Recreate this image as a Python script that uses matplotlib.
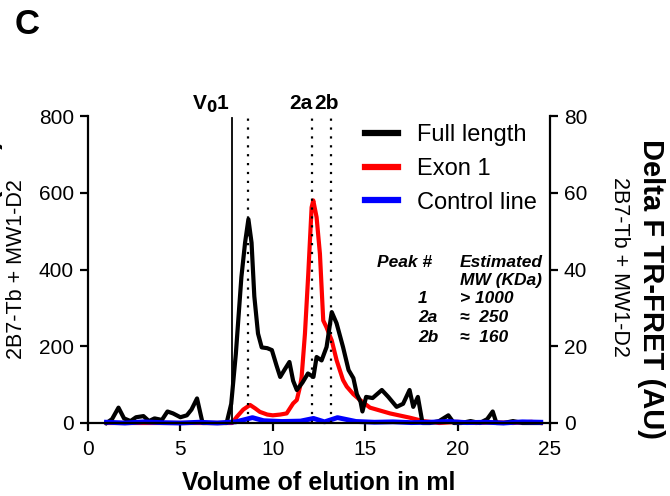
import matplotlib
matplotlib.use("Agg")
import matplotlib.pyplot as plt

plt.rcParams['font.family'] = ['Liberation Sans', 'DejaVu Sans']

# Full length (left axis units)
full_x = [1.0, 1.3, 1.65, 1.95, 2.3, 2.6, 3.0, 3.3, 3.6, 4.0, 4.3, 4.6, 5.0, 5.35,
          5.6, 5.9, 6.2, 6.5, 7.0, 7.5, 7.75, 8.0, 8.3, 8.5, 8.68, 8.85, 9.0, 9.2,
          9.4, 9.7, 9.95, 10.2, 10.4, 10.65, 10.9, 11.1, 11.3, 11.6, 11.9, 12.2,
          12.37, 12.64, 12.91, 13.19, 13.45, 13.8, 14.1, 14.36, 14.55, 14.75, 14.85,
          15.05, 15.4, 15.9, 16.25, 16.7, 17.05, 17.4, 17.6, 17.85, 18.1, 18.5, 19.0,
          19.5, 19.8, 20.2, 20.7, 21.2, 21.6, 21.9, 22.1, 22.5, 23.0, 23.5, 24.0, 24.5]
full_y = [0, 10, 40, 12, 5, 15, 18, 5, 12, 8, 30, 25, 15, 20,
          35, 64, 0, 0, 0, 0, 50, 180, 380, 470, 531, 470, 330, 233,
          197, 195, 190, 150, 120, 140, 159, 110, 86, 105, 129, 120,
          172, 163, 198, 289, 260, 198, 138, 117, 75, 55, 30,
          68, 65, 86, 68, 42, 50, 86, 42, 68, 0, 0, 5,
          20, 0, 0, 5, 0, 10, 30, 0, 0, 5, 0, 0, 0]

# Exon 1 (right axis units, AU)
exon_x = [1.0, 2, 3, 4, 5, 6, 7, 7.8, 8.05, 8.4, 8.77, 9.05, 9.3, 9.7, 10.0, 10.4,
          10.75, 11.1, 11.3, 11.47, 11.56, 11.74, 11.92, 12.1, 12.19, 12.37, 12.55,
          12.73, 12.9, 13.19, 13.45, 13.8, 14.0, 14.36, 14.72, 15.26, 16.34, 17.4,
          18.15, 19, 20, 21, 22, 23, 24, 24.5]
exon_y = [0, 0, 0, 0, 0, 0, 0, 0, 1.6, 3.5, 4.7, 3.8, 2.9, 2.2, 2.0, 2.2,
          2.5, 5.1, 6.0, 9.4, 12.0, 23.3, 38.9, 56.2, 58.0, 53.6, 44.1,
          26.7, 25.0, 21.5, 16.4, 11.2, 9.5, 7.5, 6.0, 4.0, 2.5, 1.4,
          0.5, 0, 0.3, 0, 0.2, 0, 0.3, 0]

# Control line (left axis units)
ctrl_x = [1, 2, 3, 4, 5, 6, 7, 8, 8.9, 9.5, 10.5, 11.5, 12.2, 12.8, 13.5, 14.5,
          15.5, 16.5, 17.5, 18.5, 19.5, 20.5, 21.5, 22.5, 23.5, 24.5]
ctrl_y = [2, 0, 3, 1, 0, 2, 0, 3, 14, 6, 4, 5, 12, 3, 14, 4,
          2, 3, 1, 2, 4, 1, 2, 0, 3, 2]

void_vol = 7.8
peak_pos = [8.66, 12.1, 13.15]

peak_names = ["1", "2a", "2b"]
peak_mw = ["> 1000", "\u2248  250", "\u2248  160"]

fig = plt.figure(figsize=(6.7, 4.96), dpi=100)
ax = fig.add_axes([88 / 670, 73 / 496, 462 / 670, 307 / 496])
ax2 = ax.twinx()
ax.set_zorder(ax2.get_zorder() + 1)
ax.patch.set_visible(False)

ax.set_xlim(0, 25)
ax.set_ylim(0, 800)
ax2.set_ylim(0, 80)

lw = 3.0
l_red, = ax2.plot(exon_x, exon_y, color='#ff0000', lw=lw, clip_on=False, label='Exon 1')
l_blk, = ax.plot(full_x, full_y, color='black', lw=lw, clip_on=False, label='Full length')
l_blu, = ax.plot(ctrl_x, ctrl_y, color='#0000ff', lw=3.5, clip_on=False, label='Control line')

ax.plot([void_vol, void_vol], [0, 795], color='black', lw=1.3)
for p in peak_pos:
    ax.plot([p, p], [0, 795], color='black', lw=1.6, ls=(0, (1, 3)))

# top labels
ax.text(7.7, 832, r"V$_\mathbf{0}$1", ha='right', va='center', fontsize=15,
        fontweight='bold', clip_on=False)
ax.text(11.53, 832, "2a", ha='center', va='center', fontsize=15, fontweight='bold')
ax.text(12.88, 832, "2b", ha='center', va='center', fontsize=15, fontweight='bold')

# peak table
tkw = dict(fontsize=12.5, fontweight='bold', style='italic', va='center')
ax.text(15.64, 418, "Peak #", **tkw)
ax.text(20.13, 418, "Estimated", **tkw)
ax.text(20.13, 371, "MW (KDa)", **tkw)
for i, (nm, mw) in enumerate(zip(peak_names, peak_mw)):
    yy = 325 - i * 51
    ax.text(17.86, yy, nm, **tkw)
    ax.text(20.13, yy, mw, **tkw)

# axes styling
for a in (ax, ax2):
    a.spines['top'].set_visible(False)
    for s in a.spines.values():
        s.set_linewidth(1.6)
ax.spines['right'].set_visible(False)
ax2.spines['left'].set_visible(False)
ax2.spines['bottom'].set_visible(False)

ax.set_xticks([0, 5, 10, 15, 20, 25])
ax.set_yticks([0, 200, 400, 600, 800])
ax2.set_yticks([0, 20, 40, 60, 80])
ax.tick_params(axis='both', direction='out', length=6, width=1.6, labelsize=15, pad=4)
ax.tick_params(axis='x', pad=6)
ax2.tick_params(axis='y', direction='out', length=6, width=1.6, labelsize=15, pad=4)

ax.set_xlabel("Volume of elution in ml", fontsize=18, fontweight='bold', labelpad=9)

# legend
leg = ax2.legend(handles=[l_blk, l_red, l_blu], loc='upper left',
                 bbox_to_anchor=(365 / 670, 1 - 124 / 496), bbox_transform=fig.transFigure,
                 frameon=False, fontsize=17, handlelength=1.4, handletextpad=0.8,
                 labelspacing=0.5, borderpad=0, borderaxespad=0)
for h in leg.get_lines():
    h.set_linewidth(4.5)

# axis titles
fig.text(-3 / 670, 1 - 289 / 496, "Delta F TR-FRET (AU)", rotation=90,
         rotation_mode='anchor', ha='center', va='baseline', fontsize=21,
         fontweight='bold')
fig.text(17 / 670, 1 - 269 / 496, "2B7-Tb + MW1-D2", rotation=90,
         ha='center', va='center', fontsize=15.5)
fig.text(651 / 670, 1 - 289 / 496, "Delta F TR-FRET (AU)", rotation=-90,
         ha='center', va='center', fontsize=21, fontweight='bold')
fig.text(620 / 670, 1 - 267 / 496, "2B7-Tb + MW1-D2", rotation=-90,
         ha='center', va='center', fontsize=15.5)

fig.text(27 / 670, 1 - 24 / 496, "C", ha='center', va='center', fontsize=25,
         fontweight='bold')

fig.savefig("out.png", dpi=100)
